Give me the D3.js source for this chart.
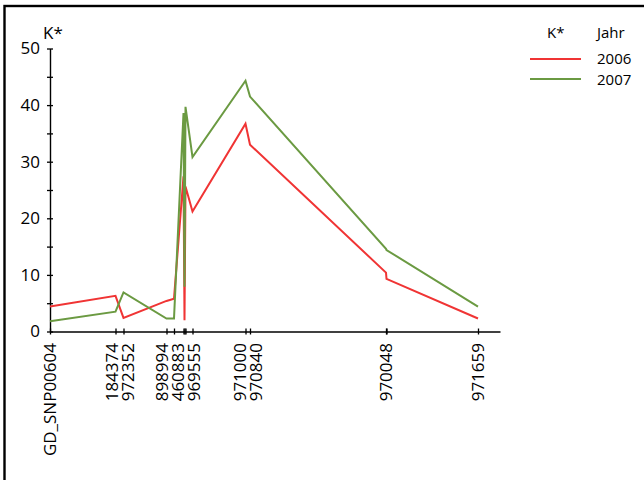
<!DOCTYPE html>
<html>
<head>
<meta charset="utf-8">
<script src="https://cdn.jsdelivr.net/npm/d3@7"></script>
<style>
  html, body { margin: 0; padding: 0; background: #fff; }
  svg { display: block; font-family: "Open Sans", sans-serif; }
</style>
</head>
<body>
<svg id="chart" width="644" height="480"></svg>
<script>
// Marker positions along the map and the marker names shown under the axis
const positions = [0, 13.1, 14.7, 23.3, 24.8, 26.7, 26.9, 27.1, 28.5, 39.1, 40.0, 67.2, 67.3, 85.6];
const markerLabels = ["GD_SNP00604", "184374", "972352", "898994", "460883", "", "", "", "969555",
                      "971000", "970840", "970048", "", "971659"];

// K* per marker and year
const years = ["2006", "2007"];
const k2006 = [4.4, 6.3, 2.4, 5.4, 5.8, 27.4, 2.0, 25.6, 21.2, 36.7, 33.0, 10.4, 9.3, 2.3];
const k2007 = [1.8, 3.5, 6.9, 2.3, 2.3, 38.6, 7.9, 39.7, 30.8, 44.3, 41.5, 14.6, 14.4, 4.4];

const yTicks = [0, 5, 10, 15, 20, 25, 30, 35, 40, 45, 50];
const colors = ["#f03434", "#6b9a42"];

const svg = d3.select("#chart");

// outer frame
svg.append("rect")
  .attr("x", 4.5).attr("y", 6)
  .attr("width", 800).attr("height", 600)
  .attr("fill", "none").attr("stroke", "#000").attr("stroke-width", 2.4);

const x = d3.scaleLinear().domain([0, 90]).range([50, 500]);
const y = d3.scaleLinear().domain([0, 50]).range([331.5, 48.5]);

// y axis
const yAxis = svg.append("g")
  .attr("transform", `translate(${x(0)},0)`)
  .call(d3.axisLeft(y).tickValues(yTicks).tickSizeOuter(0)
        .tickFormat(d => d % 10 === 0 ? d : ""));
yAxis.select(".domain").attr("stroke", "#000").attr("stroke-width", 1.4);
yAxis.selectAll(".tick line").attr("x1", -3).attr("x2", 3).attr("stroke-width", 1.3);
yAxis.selectAll(".tick text")
  .attr("x", -10).attr("font-size", 17).attr("font-family", "Open Sans, sans-serif").attr("fill", "#000");

// spread crowded marker labels apart so none overlap
const minGap = 16;
const labelled = positions.map((p, i) => ({ i, tx: x(p) })).filter(d => markerLabels[d.i] !== "");
let groups = labelled.map(d => ({ items: [d], mean: d.tx }));
function place(g) {
  const n = g.items.length;
  g.items.forEach((d, k) => { d.lx = g.mean + (k - (n - 1) / 2) * minGap; });
}
groups.forEach(place);
let merged = true;
while (merged) {
  merged = false;
  for (let k = 0; k < groups.length - 1; k++) {
    const a = groups[k], b = groups[k + 1];
    if (b.items[0].lx - a.items[a.items.length - 1].lx < minGap) {
      const items = a.items.concat(b.items);
      const g = { items, mean: d3.mean(items, d => d.tx) };
      place(g);
      groups.splice(k, 2, g);
      merged = true;
      break;
    }
  }
}
const labelShift = {};
labelled.forEach(d => { labelShift[d.i] = d.lx - d.tx; });

// x axis
const xAxis = svg.append("g")
  .attr("transform", `translate(0,${y(0)})`)
  .call(d3.axisBottom(x).tickValues(positions).tickSizeOuter(0)
        .tickFormat((d, i) => markerLabels[i]));
xAxis.select(".domain").attr("stroke", "#000").attr("stroke-width", 1.4);
xAxis.selectAll(".tick line").attr("y1", -3).attr("y2", 3).attr("stroke-width", 1.3);
xAxis.selectAll(".tick text")
  .attr("transform", "rotate(-90)")
  .attr("text-anchor", "end")
  .attr("x", -11.5)
  .attr("y", (d, i) => labelShift[i] || 0)
  .attr("dy", "0.35em")
  .attr("font-size", 17).attr("font-family", "Open Sans, sans-serif").attr("fill", "#000");

// y axis title
svg.append("text").attr("x", 43).attr("y", 39)
  .attr("font-size", 17).text("K*");

// series lines
const line = d3.line().x((d, i) => x(positions[i])).y(d => y(d));
[k2006, k2007].forEach((vals, s) => {
  svg.append("path")
    .datum(vals)
    .attr("d", line)
    .attr("fill", "none")
    .attr("stroke", colors[s])
    .attr("stroke-width", 2)
    .attr("stroke-linejoin", "miter");
});

// legend
const legend = svg.append("g").attr("font-size", 15);
legend.append("text").attr("x", 547).attr("y", 38).text("K*");
legend.append("text").attr("x", 597).attr("y", 38).text("Jahr");
years.forEach((yr, i) => {
  const cy = 59 + i * 20;
  legend.append("line")
    .attr("x1", 530).attr("x2", 581).attr("y1", cy).attr("y2", cy)
    .attr("stroke", colors[i]).attr("stroke-width", 2);
  legend.append("text").attr("x", 597).attr("y", 64 + i * 20.5).text(yr);
});
</script>
</body>
</html>
